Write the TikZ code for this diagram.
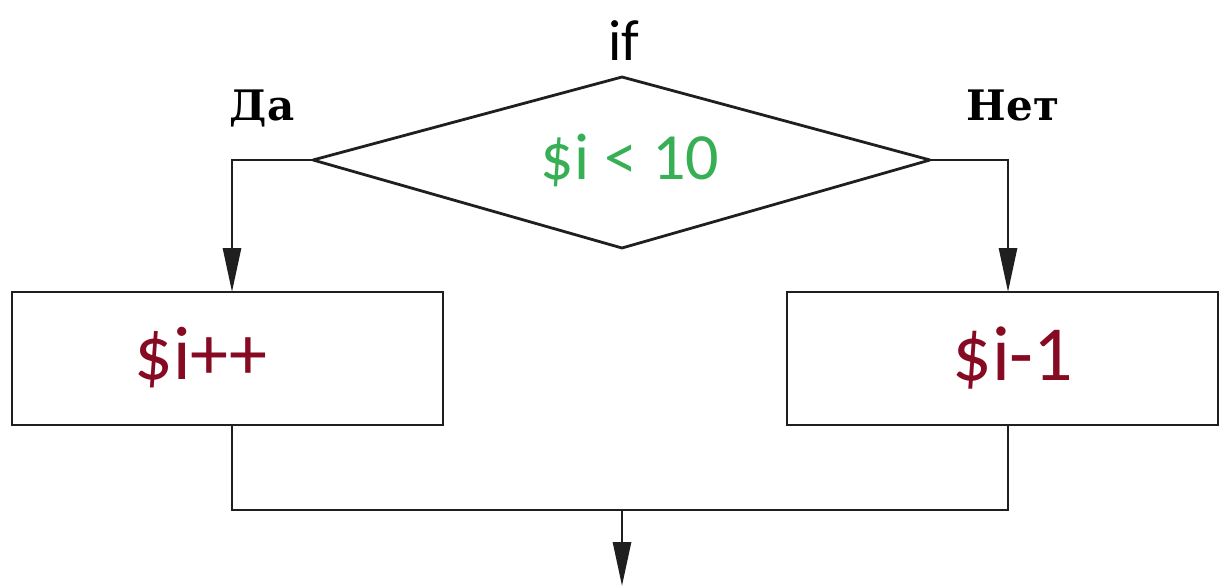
\documentclass[tikz,border=0pt]{standalone}
\usepackage{fontspec}
\setmainfont{Carlito}
\newfontfamily\monob{DejaVu Serif}
\usetikzlibrary{shapes.geometric,arrows.meta}
\definecolor{condgreen}{RGB}{55,175,85}
\definecolor{actred}{RGB}{135,10,35}
\tikzset{
  line/.style={line width=2.8pt, draw=black!88},
  arr/.style={line, -{Triangle[length=44pt,width=18pt]}},
  actbox/.style={draw=black!88, line width=2.8pt, minimum width=431pt, minimum height=133pt, inner sep=0pt},
  lbl/.style={font=\monob\bfseries\fontsize{42}{46}\selectfont, inner sep=0pt},
}
\begin{document}
\begin{tikzpicture}[x=1pt,y=-1pt]
\useasboundingbox[fill=white] (0,0) rectangle (1220,586);
% diamond
\coordinate (dl) at (313,160);
\coordinate (dt) at (622,77);
\coordinate (dr) at (930,160);
\coordinate (db) at (622,248);
\draw[line, line join=round] (dl) -- (dt) -- (dr) -- (db) -- cycle;
\node[text=condgreen, font=\fontsize{66}{70}\selectfont, inner sep=0pt] (cond) at (630,160) {\$i < 10};
\node[font=\fontsize{58}{62}\selectfont, inner sep=0pt, anchor=base] (if) at (624,60) {if};
\node[lbl, anchor=base] (da) at (262,120) {Да};
\node[lbl, anchor=base] (net) at (1013,120) {Нет};
% boxes
\node[actbox] (yes) at (227.5,358.5) {};
\node[actbox] (no) at (1002.5,358.5) {};
\node[text=actred, font=\fontsize{76}{80}\selectfont, inner sep=0pt] (yt) at (201,358) {\$i++};
\node[text=actred, font=\fontsize{78}{82}\selectfont, inner sep=0pt] (nt) at (1013,358) {\$i-1};
% connectors
\coordinate (yl) at (232,160);
\coordinate (nl) at (1008,160);
\draw[arr] (dl) -- (yl) -- (232,292);
\draw[arr] (dr) -- (nl) -- (1008,292);
\coordinate (jl) at (232,510);
\coordinate (jr) at (1008,510);
\coordinate (jm) at (622,510);
\coordinate (out) at (622,586);
\draw[line] (232,425) -- (jl) -- (jr) -- (1008,425);
\draw[arr] (jm) -- (out);
\end{tikzpicture}
\end{document}
